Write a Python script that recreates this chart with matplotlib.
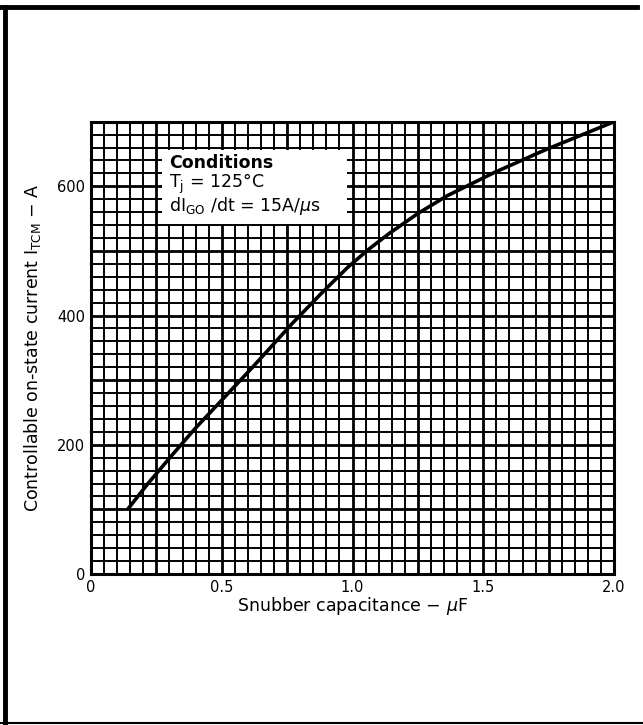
import numpy as np
import matplotlib.pyplot as plt
from matplotlib.lines import Line2D
from matplotlib.patches import Rectangle

# Curva: capacitancia (uF) vs corriente controlable (A)
cap_uF = [0.14, 0.22, 0.31, 0.40, 0.50, 0.62, 0.77, 0.88, 0.98, 1.06, 1.14,
          1.25, 1.36, 1.54, 1.74, 2.0]
i_tcm = [100, 141, 184, 226, 269, 321, 388, 434, 474, 502, 527,
         558, 585, 621, 657, 700]

x_ticks = [0, 0.5, 1.0, 1.5, 2.0]
x_ticklabels = ["0", "0.5", "1.0", "1.5", "2.0"]
y_ticks = [0, 200, 400, 600]
y_ticklabels = ["0", "200", "400", "600"]

fig = plt.figure(figsize=(6.43, 7.25), dpi=100)
ax = fig.add_axes([0.1415, 0.2083, 0.8135, 0.6238])
ax.set_xlim(0, 2.0)
ax.set_ylim(0, 700)

# Rejilla de papel milimetrado
for xv in np.arange(0.05, 2.0, 0.05):
    thick = abs(xv / 0.25 - round(xv / 0.25)) < 1e-6
    ax.axvline(xv, color='black', lw=2.0 if thick else 1.4, zorder=1)
for yv in np.arange(20, 700, 20):
    thick = yv % 100 == 0
    ax.axhline(yv, color='black', lw=2.0 if thick else 1.4, zorder=1)

# Recuadro de condiciones
ax.add_patch(Rectangle((0.27, 542), 0.71, 114, facecolor='white',
                       edgecolor='none', zorder=2))
ax.text(0.30, 636, "Conditions", fontsize=12.5, fontweight='bold',
        va='center', ha='left', zorder=3)
ax.text(0.30, 603, r"T$_\mathregular{j}$ = 125°C", fontsize=12.5,
        va='center', ha='left', zorder=3)
ax.text(0.30, 570, r"dI$_\mathregular{GO}$ /dt = 15A/$\mu$s", fontsize=12.5,
        va='center', ha='left', zorder=3)

ax.plot(cap_uF, i_tcm, color='black', lw=2.6, zorder=4,
        solid_capstyle='butt', solid_joinstyle='round')

for side in ['top', 'right', 'bottom', 'left']:
    ax.spines[side].set_linewidth(2.2)
ax.set_xticks(x_ticks)
ax.set_xticklabels(x_ticklabels, fontsize=10.5)
ax.set_yticks(y_ticks)
ax.set_yticklabels(y_ticklabels, fontsize=10.5)
ax.tick_params(length=0, pad=4)
ax.set_xlabel(r"Snubber capacitance $-$ $\mu$F", fontsize=12.5, labelpad=0)
ax.set_ylabel(r"Controllable on-state current I$_\mathregular{TCM}$ $-$ A",
              fontsize=12.5, labelpad=10)

# Marco exterior
fig.add_artist(Line2D([0.008, 0.008], [0.0, 0.99], transform=fig.transFigure,
                      color='black', lw=3.5))
fig.add_artist(Line2D([0.0, 0.99], [0.9897, 0.9897], transform=fig.transFigure,
                      color='black', lw=3.5))
fig.add_artist(Line2D([0.0, 1.0], [0.003, 0.003], transform=fig.transFigure,
                      color='black', lw=1.5))

fig.savefig("out.png", dpi=100)
